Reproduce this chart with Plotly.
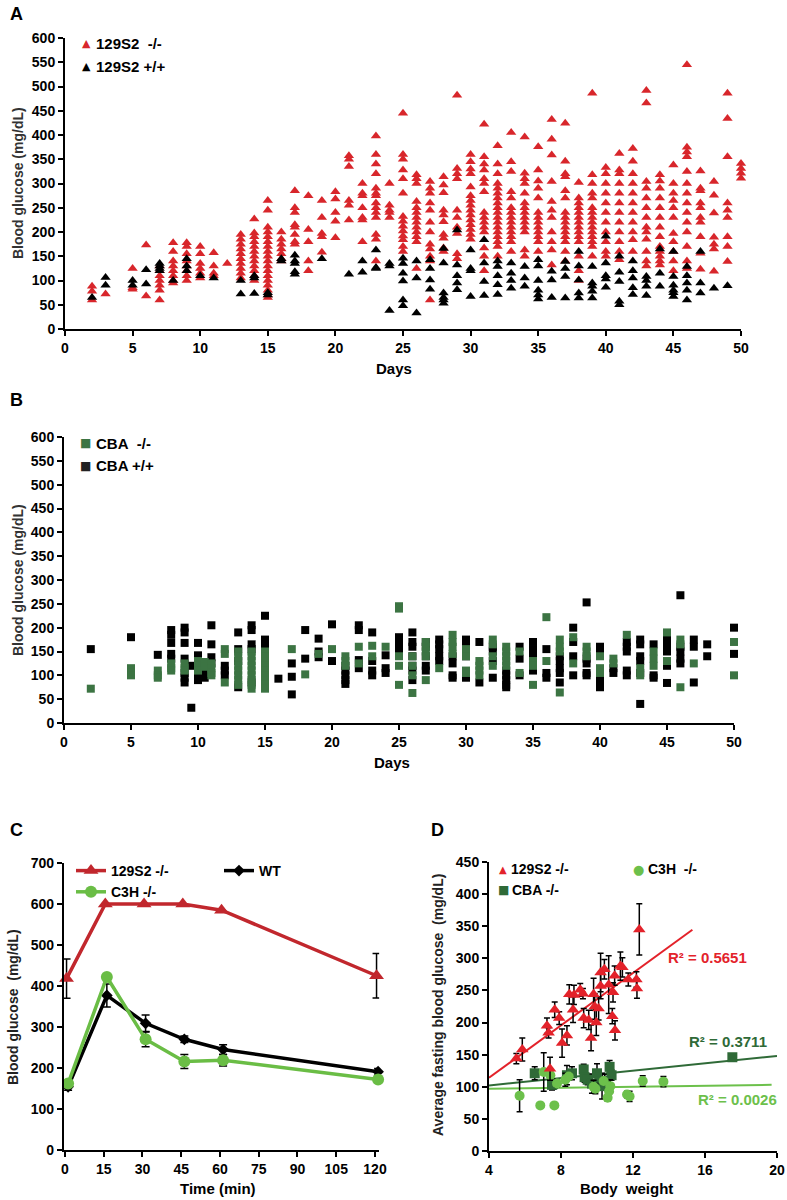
import plotly.graph_objects as go

# ---------------- Panel A data (day -> blood glucose values) ----------------
A_KO_129 = {
    2: [88, 78, 60], 3: [72], 5: [125, 85, 82], 6: [173, 68],
    7: [130, 120, 110, 100, 90, 80, 60], 8: [178, 160, 140, 130, 120, 110, 100, 95],
    9: [178, 170, 155, 140, 130, 120, 110, 100], 10: [170, 155, 135, 125, 115, 105],
    11: [157, 130, 115, 110], 12: [135],
    13: [195, 185, 175, 165, 155, 145, 135, 125, 115, 105],
    14: [227, 198, 190, 180, 170, 160, 150, 140, 130, 120, 110, 100],
    15: [265, 245, 210, 200, 190, 180, 170, 160, 150, 140, 130, 120, 110, 100, 90, 80, 70, 65],
    16: [200, 185, 175, 165, 155, 145, 140], 17: [285, 250, 240, 215, 210, 195, 180, 175],
    18: [275, 205, 180, 140, 120], 19: [265, 230, 197, 190, 158], 20: [283, 268, 240, 222, 188],
    21: [357, 350, 335, 265, 255, 225], 22: [300, 280, 275, 250, 230, 225, 180],
    23: [398, 360, 340, 320, 290, 280, 275, 260, 250, 240, 230, 195, 185, 140],
    24: [300, 255, 245, 240, 230],
    25: [445, 360, 350, 328, 310, 280, 232, 222, 212, 202, 192, 184, 170, 160],
    26: [318, 310, 300, 263, 250, 240, 230, 220, 210, 200, 190, 180, 125],
    27: [304, 290, 280, 260, 245, 220, 200, 175, 165, 150, 140, 60],
    28: [314, 297, 281, 245, 235, 221, 195, 187, 167, 160],
    29: [482, 331, 320, 310, 245, 230, 210, 197, 155, 145],
    30: [360, 345, 330, 320, 293, 275, 265, 255, 245, 235, 225, 215, 205, 195, 185],
    31: [422, 355, 340, 328, 310, 300, 283, 240, 230, 220, 210, 200, 167, 150, 120],
    32: [378, 340, 320, 300, 290, 280, 270, 260, 250, 240, 230, 220, 210, 200, 190, 180, 170, 150],
    33: [405, 345, 325, 283, 270, 250, 240, 230, 220, 210, 200, 190, 180, 160],
    34: [396, 321, 310, 300, 280, 260, 250, 240, 230, 220, 210, 200, 163, 150],
    35: [376, 328, 305, 290, 270, 240, 230, 220, 210, 200, 190, 180, 160],
    36: [432, 391, 359, 304, 263, 245, 230, 200, 180, 163, 132],
    37: [424, 346, 320, 314, 285, 270, 240, 230, 220, 210, 200, 190, 180, 160, 140],
    38: [302, 270, 260, 250, 240, 230, 220, 210, 200, 190, 180, 150, 120, 100],
    39: [486, 318, 300, 280, 270, 250, 240, 230, 220, 210, 200, 190, 180, 170, 150],
    40: [333, 320, 300, 280, 260, 240, 220, 200, 180, 160, 150],
    41: [362, 328, 320, 300, 280, 260, 240, 220, 200, 180, 160, 143],
    42: [372, 346, 320, 300, 280, 260, 240, 220, 200, 184, 160],
    43: [492, 466, 304, 290, 270, 250, 230, 210, 200, 185, 160, 140, 130],
    44: [318, 305, 290, 270, 250, 230, 210, 190, 170, 160, 150, 140, 132],
    45: [338, 300, 280, 265, 250, 230, 197, 180, 160, 140, 120],
    46: [545, 375, 365, 355, 325, 300, 280, 260, 240, 220, 200, 170, 140, 125],
    47: [326, 290, 285, 260, 250, 230, 220, 190, 156, 123],
    48: [304, 276, 239, 189, 175, 165, 119],
    49: [486, 434, 355, 260, 245, 230, 190, 170, 139],
    50: [341, 331, 321, 311],
}
A_WT_129 = {
    2: [65], 3: [106, 90], 5: [100, 90], 6: [122, 93], 7: [135, 130, 125, 120], 8: [100],
    9: [145, 130, 120], 10: [110], 11: [105], 13: [100, 72], 14: [110, 105, 73], 15: [75, 70],
    16: [145, 140], 17: [152, 140, 135, 118, 113], 19: [145], 21: [113], 22: [140, 117],
    23: [163, 127, 125], 24: [135, 130, 38], 25: [146, 135, 115, 99, 60, 48], 26: [140, 105, 33],
    27: [143, 125, 101, 82], 28: [166, 136, 74, 65, 60, 53], 29: [204, 132, 110, 95, 81],
    30: [163, 125, 120, 67], 31: [184, 136, 98, 69], 32: [140, 129, 110, 91, 71],
    33: [136, 115, 100, 84], 34: [129, 105, 88], 35: [143, 130, 100, 80, 70, 62],
    36: [119, 101, 65], 37: [139, 125, 108, 64], 38: [160, 130, 101, 74, 64],
    39: [129, 95, 88, 78, 64], 40: [191, 136, 110, 103, 86], 41: [150, 117, 98, 57, 50],
    42: [140, 120, 105, 85, 71], 43: [108, 100, 88, 69], 44: [165, 115, 88],
    45: [160, 108, 90, 80, 75, 67], 46: [129, 110, 95, 80, 60], 47: [160, 95, 74], 48: [84], 49: [89],
}

# ---------------- Panel B data ----------------
B_KO_CBA = {
    2: [72], 5: [115, 105, 100], 7: [110, 100, 95], 8: [125, 115, 110], 9: [125, 115, 110],
    10: [130, 120, 110], 10.5: [128, 118], 11: [125, 115, 105, 100], 12: [155, 145, 85],
    13: [150, 140, 130, 120, 110, 100, 90, 80], 14: [150, 140, 130, 120, 110, 100, 90, 80, 72],
    15: [150, 140, 130, 120, 110, 100, 90, 80, 72], 17: [155], 18: [102], 19: [145], 20: [155],
    21: [140, 130, 120], 22: [160, 125], 23: [162, 140], 24: [160], 25: [245, 240, 140, 120, 80],
    26: [140, 120, 100, 63], 27: [170, 160, 150, 140, 90], 28: [115], 29: [185, 170, 160, 145],
    30: [155, 140, 110, 105], 31: [130, 120, 110, 100], 32: [175, 165, 140, 120],
    33: [160, 150, 140, 130, 120], 34: [150, 105], 35: [130, 120, 80], 36: [222, 130],
    37: [175, 160, 150, 64], 38: [180, 125], 39: [160, 150, 140], 40: [140, 115, 105],
    41: [135, 125], 42: [185], 43: [115, 100], 44: [150, 135, 120], 45: [190, 130],
    46: [175, 165, 75], 47: [125], 50: [170, 100],
}
B_WT_CBA = {
    2: [155], 5: [180], 7: [143], 8: [195, 185, 168, 145, 135], 9: [200, 190, 168, 135, 105, 95, 85],
    9.5: [120, 32], 10: [168, 142, 100, 90], 10.5: [110, 95], 11: [205, 165, 138, 125],
    12: [120, 110, 100], 13: [190, 155, 130, 75], 14: [205, 195, 165, 155, 85],
    15: [225, 175, 160, 150, 90], 16: [93], 17: [125, 97, 60], 18: [195, 135], 19: [177, 150, 138],
    20: [207, 130], 21: [120, 110, 100, 90, 82], 22: [205, 195, 132, 115], 23: [190, 130, 110, 100],
    24: [142, 115, 105], 25: [180, 170, 160, 150], 26: [190, 170, 160, 140, 120, 110, 90],
    27: [170, 160, 140, 120, 110], 28: [175, 165, 155, 140, 130], 29: [140, 125, 100, 95],
    30: [175, 160, 140, 100, 95], 31: [170, 85], 32: [160, 150, 130, 95], 33: [110, 100, 90, 80, 75],
    34: [160, 135, 100], 35: [170, 155, 145, 120, 110], 36: [155, 105, 95],
    37: [140, 130, 115, 105, 85], 38: [200, 170, 140, 100], 39: [253, 135, 125, 105, 100],
    40: [160, 150, 100, 90, 75], 41: [115, 105], 42: [170, 160, 150, 110, 100],
    43: [175, 165, 140, 130, 105, 40], 44: [165, 100, 95], 45: [175, 165, 150, 120, 84],
    46: [268, 160, 150, 135, 125], 47: [175, 160, 85], 48: [165, 140], 50: [200, 145],
}

# ---------------- Panel C data ----------------
C_TIME = [0, 15, 30, 45, 60, 120]
C_KO129 = [418, 600, 600, 600, 585, 425]
C_KO129_ERR = [48, 0, 0, 0, 0, 54]
C_C3H = [162, 422, 270, 216, 219, 172]
C_C3H_ERR = [0, 0, 18, 17, 14, 0]
C_WT = [154, 377, 309, 270, 245, 191]
C_WT_ERR = [8, 28, 20, 8, 12, 8]
C_TICKS = [0, 15, 30, 45, 60, 75, 90, 105, 120]

# ---------------- Panel D data ----------------
D_129_W = [5.52, 5.85, 7.22, 7.31, 7.39, 7.65, 7.9, 8.06, 8.33, 8.46, 8.67, 8.72, 9.07, 9.22, 9.26,
           9.54, 9.67, 9.81, 9.87, 9.96, 10.09, 10.2, 10.2, 10.41, 10.65, 10.85, 10.89, 10.98, 11.0,
           11.3, 11.41, 11.74, 12.19, 12.22, 12.35]
D_129_G = [144, 158, 195, 184, 128, 220, 207, 168, 180, 244, 220, 243, 251, 245, 207,
           204, 176, 244, 225, 200, 222, 278, 257, 283, 259, 210, 247, 273, 188,
           288, 286, 267, 267, 253, 345]
D_129_E = [8, 18, 12, 8, 18, 12, 10, 22, 15, 15, 20, 15, 10, 8, 15,
           15, 20, 25, 20, 20, 18, 30, 20, 15, 45, 12, 15, 15, 15,
           22, 15, 10, 12, 15, 40]
D_CBA_W = [6.54, 7.5, 7.56, 8.33, 8.61, 9.26, 9.31, 9.48, 9.72, 10.0, 10.13, 10.28, 10.43, 10.7, 10.81, 17.52]
D_CBA_G = [121, 103, 104, 118, 121, 127, 115, 111, 105, 121, 108, 101, 109, 131, 118, 146]
D_CBA_E = [10, 8, 8, 15, 10, 8, 8, 8, 15, 15, 10, 20, 10, 10, 8, 0]
D_C3H_W = [5.7, 6.85, 7.04, 7.41, 7.63, 7.78, 8.24, 8.43, 9.81, 9.91, 10.37, 10.59, 10.67, 10.74,
           11.67, 11.81, 12.54, 13.69]
D_C3H_G = [86, 71, 123, 118, 71, 105, 111, 116, 100, 97, 109, 83, 93, 101, 88, 85, 109, 108]
D_C3H_E = [25, 0, 30, 5, 0, 5, 10, 5, 10, 8, 5, 5, 5, 10, 5, 8, 8, 8]
# regression lines: (slope, intercept, x start, x end)
D_FIT_129 = (20.4, 32.4, 4, 15.3)
D_FIT_CBA = (2.875, 90.5, 4, 20)
D_FIT_C3H = (0.385, 95.5, 4, 19.7)
D_R2_LABELS = ["R² = 0.5651", "R² = 0.3711", "R² = 0.0026"]

RED_A = "#d8262b"
GREEN_B = "#3c7443"
RED_C = "#c1272d"
GREEN_C = "#6abd45"
RED_D = "#e3222a"
DKGREEN_D = "#2f6a37"
LTGREEN_D = "#6cc04b"
FONT = "Liberation Sans, Arial, sans-serif"
SYMFONT = "DejaVu Sans, sans-serif"


def flatten(d):
    xs, ys = [], []
    for k, vals in d.items():
        for v in vals:
            xs.append(k)
            ys.append(v)
    return xs, ys


fig = go.Figure()

# Panel A
x, y = flatten(A_KO_129)
fig.add_trace(go.Scatter(x=x, y=y, mode="markers", name="129S2 -/-", showlegend=False,
                         marker=dict(symbol="triangle-up", size=9, color=RED_A),
                         xaxis="x", yaxis="y", cliponaxis=False))
x, y = flatten(A_WT_129)
fig.add_trace(go.Scatter(x=x, y=y, mode="markers", name="129S2 +/+", showlegend=False,
                         marker=dict(symbol="triangle-up", size=9, color="black"),
                         xaxis="x", yaxis="y", cliponaxis=False))

# Panel B
x, y = flatten(B_WT_CBA)
fig.add_trace(go.Scatter(x=x, y=y, mode="markers", name="CBA +/+", showlegend=False,
                         marker=dict(symbol="square", size=8, color="black"),
                         xaxis="x2", yaxis="y2", cliponaxis=False))
x, y = flatten(B_KO_CBA)
fig.add_trace(go.Scatter(x=x, y=y, mode="markers", name="CBA -/-", showlegend=False,
                         marker=dict(symbol="square", size=8, color=GREEN_B),
                         xaxis="x2", yaxis="y2", cliponaxis=False))

# Panel C
err_style = dict(type="data", color="black", thickness=1.5, width=4, visible=True)
fig.add_trace(go.Scatter(x=[t + 1.2 for t in C_TIME], y=C_WT, mode="lines+markers", name="WT",
                         line=dict(color="black", width=3.5),
                         marker=dict(symbol="diamond", size=9, color="black"),
                         error_y=dict(array=C_WT_ERR, **err_style),
                         xaxis="x3", yaxis="y3", legend="legend4", cliponaxis=False))
fig.add_trace(go.Scatter(x=[t + 1.2 for t in C_TIME], y=C_C3H, mode="lines+markers", name="C3H -/-",
                         legendrank=2,
                         line=dict(color=GREEN_C, width=3.5),
                         marker=dict(symbol="circle", size=12, color=GREEN_C),
                         error_y=dict(array=C_C3H_ERR, **err_style),
                         xaxis="x3", yaxis="y3", legend="legend3", cliponaxis=False))
fig.add_trace(go.Scatter(x=[t + 0.6 for t in C_TIME], y=C_KO129, mode="lines+markers", name="129S2 -/-",
                         legendrank=1,
                         line=dict(color=RED_C, width=3.5),
                         marker=dict(symbol="triangle-up", size=13, color=RED_C),
                         error_y=dict(array=C_KO129_ERR, **err_style),
                         xaxis="x3", yaxis="y3", legend="legend3", cliponaxis=False))

# Panel D regression lines
for (m, b, x0, x1), col in [(D_FIT_C3H, LTGREEN_D), (D_FIT_CBA, DKGREEN_D), (D_FIT_129, RED_D)]:
    fig.add_trace(go.Scatter(x=[x0, x1], y=[m * x0 + b, m * x1 + b], mode="lines",
                             line=dict(color=col, width=2), showlegend=False,
                             xaxis="x4", yaxis="y4", cliponaxis=False, hoverinfo="skip"))
err_d = dict(type="data", color="black", thickness=1.5, width=3, visible=True)
fig.add_trace(go.Scatter(x=D_CBA_W, y=D_CBA_G, mode="markers", name="CBA -/-", showlegend=False,
                         marker=dict(symbol="square", size=10, color=DKGREEN_D),
                         error_y=dict(array=D_CBA_E, **err_d),
                         xaxis="x4", yaxis="y4", cliponaxis=False))
fig.add_trace(go.Scatter(x=D_C3H_W, y=D_C3H_G, mode="markers", name="C3H -/-", showlegend=False,
                         marker=dict(symbol="circle", size=10, color=LTGREEN_D),
                         error_y=dict(array=D_C3H_E, **err_d),
                         xaxis="x4", yaxis="y4", cliponaxis=False))
fig.add_trace(go.Scatter(x=D_129_W, y=D_129_G, mode="markers", name="129S2 -/-", showlegend=False,
                         marker=dict(symbol="triangle-up", size=11, color=RED_D),
                         error_y=dict(array=D_129_E, **err_d),
                         xaxis="x4", yaxis="y4", cliponaxis=False))

W, H = 787, 1200


def px_x(p):
    return p / W


def px_y(p):
    return 1 - p / H


tickfont = dict(family=FONT, size=14, color="black", weight="bold")
axis_common = dict(showline=True, linewidth=2, linecolor="black", ticks="outside", ticklen=5,
                   tickwidth=2, tickcolor="black", showgrid=False, zeroline=False,
                   tickfont=tickfont, fixedrange=True, automargin=False,
                   ticklabeloverflow="allow")

legend_common = dict(font=dict(family=FONT, size=14, color="black", weight="bold"),
                     bgcolor="rgba(0,0,0,0)", borderwidth=0, xanchor="left", yanchor="top",
                     tracegroupgap=0, itemwidth=30)

# panel C x axis: 0 -> 65 px, 120 -> 375 px; small padding so end points are visible
C_PX_PER_MIN = (375 - 65) / 120
C_RANGE = [-0.4, 121.6]

fig.update_layout(
    width=W, height=H, autosize=False,
    margin=dict(l=0, r=0, t=0, b=0, autoexpand=False),
    paper_bgcolor="white", plot_bgcolor="white",
    showlegend=True,
    xaxis=dict(domain=[px_x(65), px_x(741)], range=[0, 50], dtick=5, anchor="y", **axis_common),
    yaxis=dict(domain=[px_y(329), px_y(38)], range=[0, 600], dtick=50, anchor="x", **axis_common),
    xaxis2=dict(domain=[px_x(64), px_x(734)], range=[0, 50], dtick=5, anchor="y2", **axis_common),
    yaxis2=dict(domain=[px_y(723), px_y(437)], range=[0, 600], dtick=50, anchor="x2", **axis_common),
    xaxis3=dict(domain=[px_x(65 + C_RANGE[0] * C_PX_PER_MIN), px_x(65 + C_RANGE[1] * C_PX_PER_MIN)],
                range=C_RANGE, tickvals=C_TICKS, anchor="y3", **axis_common),
    yaxis3=dict(domain=[px_y(1150), px_y(863)], range=[0, 700], dtick=100, anchor="x3", **axis_common),
    xaxis4=dict(domain=[px_x(489), px_x(777)], range=[4, 20], dtick=4, anchor="y4", **axis_common),
    yaxis4=dict(domain=[px_y(1151), px_y(862)], range=[0, 450], dtick=50, anchor="x4", **axis_common),
    legend3=dict(x=px_x(71), y=px_y(855), **legend_common),
    legend4=dict(x=px_x(219), y=px_y(855), **legend_common),
)

annots = []


def text(xp, yp, s, size=14, color="black", angle=0, weight="bold", xanchor="center", family=FONT):
    annots.append(dict(x=px_x(xp), y=px_y(yp), xref="paper", yref="paper", text=s, showarrow=False,
                       textangle=angle, xanchor=xanchor, yanchor="middle",
                       font=dict(family=family, size=size, color=color, weight=weight)))


def legend_entry(xsym, xtext, yp, glyph, gcolor, gsize, label, tsize=14):
    text(xsym, yp, glyph, size=gsize, color=gcolor, weight="normal", family=SYMFONT)
    text(xtext, yp, label, size=tsize, xanchor="left")


# legends drawn as text entries
legend_entry(86, 94, 43, "▲", RED_A, 11, "129S2\u00a0\u00a0-/-", 15)
legend_entry(86, 94, 66, "▲", "black", 11, "129S2 +/+", 15)
legend_entry(85, 94, 443, "■", GREEN_B, 12, "CBA\u00a0\u00a0-/-", 15)
legend_entry(85, 94, 466, "■", "#222222", 12, "CBA +/+", 15)
legend_entry(503, 509, 869, "▲", RED_D, 10, "129S2 -/-")
legend_entry(503, 510, 890, "■", DKGREEN_D, 12, "CBA -/-")
legend_entry(638, 646, 869, "●", LTGREEN_D, 13, "C3H\u00a0\u00a0-/-")

text(16, 14, "A", size=18)
text(16, 400, "B", size=18)
text(16, 830, "C", size=18)
text(437, 830, "D", size=18)
text(18, 183, "Blood glucose (mg/dL)", size=14, color="#333333", angle=-90)
text(394, 368, "Days", size=15)
text(18, 580, "Blood glucose (mg/dL)", size=14, color="#333333", angle=-90)
text(392, 762, "Days", size=15)
text(13, 1007, "Blood glucose\u00a0\u00a0(mg/dL)", size=14, color="#222222", angle=-90)
text(218, 1188, "Time (min)", size=15)
text(438, 1005, "Average fasting blood glucose\u00a0\u00a0(mg/dL)", size=14, color="#222222", angle=-90)
text(626, 1188, "Body\u00a0\u00a0weight", size=15)
text(707, 957, D_R2_LABELS[0], size=15, color=RED_D)
text(728, 1041, D_R2_LABELS[1], size=15, color=DKGREEN_D)
text(737, 1099, D_R2_LABELS[2], size=15, color=LTGREEN_D)

fig.update_layout(annotations=annots)

# remove the browser's default page margin so the 787x1200 figure fills the window exactly
fig.write_html("out.html",
               config={"displayModeBar": False, "staticPlot": False},
               post_script="document.body.style.margin='0px';document.body.style.overflow='hidden';")
